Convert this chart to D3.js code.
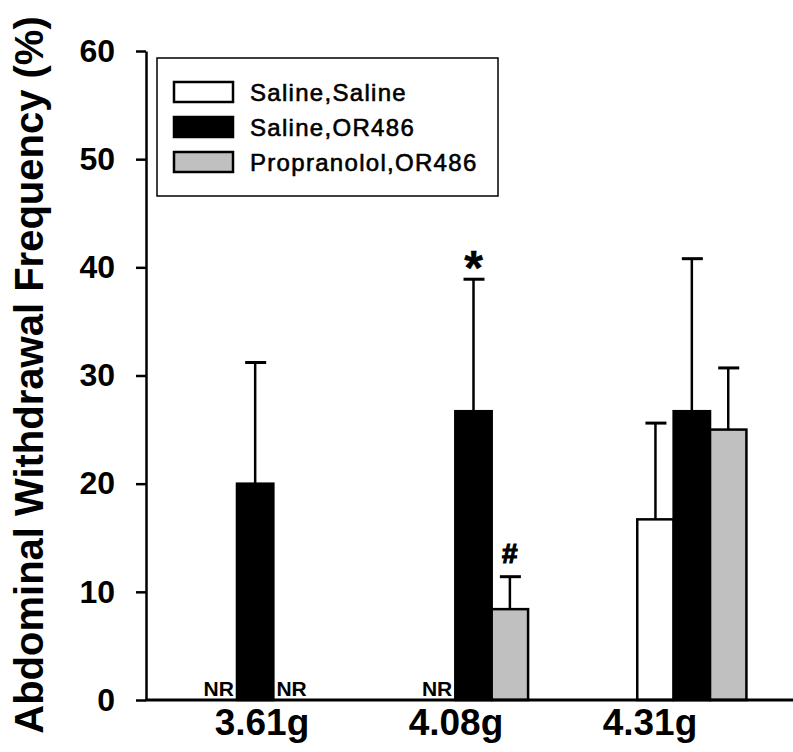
<!DOCTYPE html>
<html>
<head>
<meta charset="utf-8">
<script src="https://cdn.jsdelivr.net/npm/d3@7"></script>
<style>
  body { margin: 0; background: #fff; }
  text { font-family: "Liberation Sans", Arial, sans-serif; }
</style>
</head>
<body>
<div id="chart"></div>
<script>
// data (null = NR, no response)
var categories = ["3.61g", "4.08g", "4.31g"];
var seriesNames = ["Saline,Saline", "Saline,OR486", "Propranolol,OR486"];
var seriesColors = ["#ffffff", "#000000", "#c0c0c0"];
var salineSaline = [null, null, 16.7];
var salineSalineErr = [null, null, 8.9];
var salineOR486 = [20.0, 26.7, 26.7];
var salineOR486Err = [11.2, 12.2, 14.1];
var propOR486 = [null, 8.4, 25.0];
var propOR486Err = [null, 3.0, 5.7];
var yTicks = [0, 10, 20, 30, 40, 50, 60];
// significance marks: series index, category index, symbol
var markSeries = [1, 2];
var markCats = [1, 1];
var markText = ["*", "#"];

var values = [salineSaline, salineOR486, propOR486];
var errors = [salineSalineErr, salineOR486Err, propOR486Err];

var width = 793, height = 752;
var svg = d3.select("#chart").append("svg")
  .attr("width", width)
  .attr("height", height);

var y = d3.scaleLinear().domain([0, 60]).range([700, 51]);

var x0 = d3.scaleBand()
  .domain(categories)
  .range([146, 801])
  .paddingInner(0.5)
  .paddingOuter(0.25);

var x1 = d3.scaleBand()
  .domain(seriesNames)
  .range([0, x0.bandwidth()]);

// label positions sit a bit off the group centres in the original
var xl = d3.scalePoint().domain(categories).range([262, 650]);

// flatten into bar records
var bars = [];
categories.forEach(function(cat, ci) {
  seriesNames.forEach(function(s, si) {
    bars.push({cat: cat, series: s, si: si, value: values[si][ci], err: errors[si][ci]});
  });
});

var g = svg.append("g");

// bars
g.selectAll("rect.bar")
  .data(bars.filter(function(d) { return d.value != null; }))
  .join("rect")
  .attr("class", "bar")
  .attr("x", function(d) { return x0(d.cat) + x1(d.series); })
  .attr("y", function(d) { return y(d.value); })
  .attr("width", x1.bandwidth())
  .attr("height", function(d) { return y(0) - y(d.value); })
  .attr("fill", function(d) { return seriesColors[d.si]; })
  .attr("stroke", "#000")
  .attr("stroke-width", 2.5);

// error bars (upper only)
var eb = g.selectAll("g.err")
  .data(bars.filter(function(d) { return d.value != null && d.err != null; }))
  .join("g")
  .attr("class", "err")
  .attr("transform", function(d) { return "translate(" + (x0(d.cat) + x1(d.series) + x1.bandwidth() / 2) + ",0)"; });

eb.append("line")
  .attr("x1", 0).attr("x2", 0)
  .attr("y1", function(d) { return y(d.value); })
  .attr("y2", function(d) { return y(d.value + d.err); })
  .attr("stroke", "#000")
  .attr("stroke-width", 2.5);

eb.append("line")
  .attr("x1", -10).attr("x2", 11)
  .attr("y1", function(d) { return y(d.value + d.err); })
  .attr("y2", function(d) { return y(d.value + d.err); })
  .attr("stroke", "#000")
  .attr("stroke-width", 3);

// NR labels
g.selectAll("text.nr")
  .data(bars.filter(function(d) { return d.value == null; }))
  .join("text")
  .attr("class", "nr")
  .attr("x", function(d) { return x0(d.cat) + x1(d.series) + x1.bandwidth() / 2; })
  .attr("y", 696)
  .attr("text-anchor", "middle")
  .attr("font-size", 21)
  .attr("font-weight", "bold")
  .text("NR");

// significance marks
markText.forEach(function(t, i) {
  var si = markSeries[i], ci = markCats[i];
  var top = values[si][ci] + errors[si][ci];
  var cx = x0(categories[ci]) + x1(seriesNames[si]) + x1.bandwidth() / 2;
  g.append("text")
    .attr("x", cx)
    .attr("y", t == "*" ? y(top) + 5 : y(top) - 14)
    .attr("text-anchor", "middle")
    .attr("font-size", t == "*" ? 48 : 28)
    .attr("font-weight", "bold")
    .attr("stroke", "#000")
    .attr("stroke-width", t == "*" ? 0.5 : 1.2)
    .text(t);
});

// y axis
var yAxis = svg.append("g")
  .attr("transform", "translate(146,0)")
  .call(d3.axisLeft(y).tickValues(yTicks).tickSize(10).tickSizeOuter(0).tickPadding(21));
yAxis.select(".domain").attr("stroke-width", 2.5);
yAxis.selectAll(".tick line").attr("stroke-width", 2.5);
yAxis.selectAll(".tick text")
  .attr("font-size", 32)
  .attr("font-weight", "bold")
  .attr("font-family", "Liberation Sans, Arial, sans-serif")
  .attr("fill", "#000");

// x axis line
svg.append("line")
  .attr("x1", 145).attr("x2", width)
  .attr("y1", y(0)).attr("y2", y(0))
  .attr("stroke", "#000")
  .attr("stroke-width", 3);

// category labels
svg.selectAll("text.cat")
  .data(categories)
  .join("text")
  .attr("class", "cat")
  .attr("x", function(d) { return xl(d); })
  .attr("y", 735)
  .attr("text-anchor", "middle")
  .attr("font-size", 37)
  .attr("font-weight", "bold")
  .text(function(d) { return d; });

// y title
svg.append("text")
  .attr("transform", "translate(43,375) rotate(-90)")
  .attr("text-anchor", "middle")
  .attr("font-size", 40)
  .attr("font-weight", "bold")
  .text("Abdominal Withdrawal Frequency (%)");

// legend
var legend = svg.append("g");
legend.append("rect")
  .attr("x", 157).attr("y", 58)
  .attr("width", 341).attr("height", 138)
  .attr("fill", "#fff")
  .attr("stroke", "#000")
  .attr("stroke-width", 1.5);

var items = legend.selectAll("g.item")
  .data(seriesNames)
  .join("g")
  .attr("class", "item")
  .attr("transform", function(d, i) { return "translate(174," + (82 + i * 35) + ")"; });

items.append("rect")
  .attr("width", 59).attr("height", 20)
  .attr("fill", function(d, i) { return seriesColors[i]; })
  .attr("stroke", "#000")
  .attr("stroke-width", 2.5);

items.append("text")
  .attr("x", 76)
  .attr("y", 19)
  .attr("font-size", 24)
  .attr("letter-spacing", 1.3)
  .attr("stroke", "#000")
  .attr("stroke-width", 0.6)
  .text(function(d) { return d; });
</script>
</body>
</html>
